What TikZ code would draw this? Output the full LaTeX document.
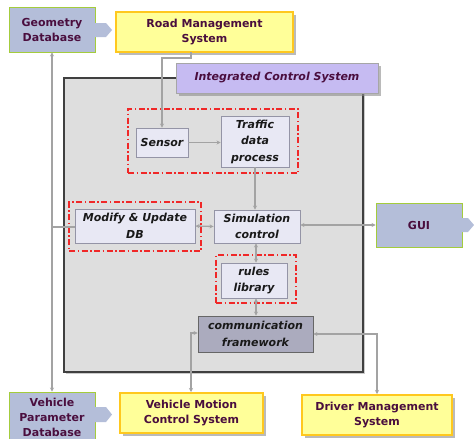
\documentclass[tikz,border=0pt]{standalone}
\usepackage{fontspec}
\setmainfont{DejaVu Sans}
\usetikzlibrary{shadows,arrows.meta}
\definecolor{dbfill}{HTML}{B4BED9}
\definecolor{dbline}{HTML}{A4CC3C}
\definecolor{yfill}{HTML}{FFFF99}
\definecolor{yline}{HTML}{FFC81E}
\definecolor{icsfill}{HTML}{C6BBF2}
\definecolor{panelfill}{HTML}{DEDEDE}
\definecolor{innerfill}{HTML}{E8E8F4}
\definecolor{innerline}{HTML}{9494A6}
\definecolor{commfill}{HTML}{ABABBE}
\definecolor{txtdark}{HTML}{4A0E3E}
\definecolor{conn}{HTML}{A3A3A3}
\definecolor{redline}{HTML}{F02828}
\tikzset{
  outertext/.style={font=\fontsize{11}{15}\selectfont\bfseries, text=txtdark, align=center, inner sep=0pt},
  dbbox/.style={outertext, fill=dbfill, draw=dbline, line width=0.9pt},
  ybox/.style={outertext, fill=yfill, draw=yline, line width=2pt,
    drop shadow={shadow xshift=2.5pt, shadow yshift=-2.5pt, fill=black!45, opacity=0.6}},
  innerbox/.style={font=\fontsize{11}{16.5}\selectfont\bfseries\itshape, text=black!90, align=center,
    inner sep=0pt, fill=innerfill, draw=innerline, line width=0.9pt},
  redbox/.style={draw=redline, line width=1.3pt, dash pattern=on 6pt off 2.5pt on 1.5pt off 2.5pt},
  connline/.style={draw=conn, line width=1.3pt},
  tipend/.style={-{Stealth[length=4pt,width=4pt]}},
  tipboth/.style={{Stealth[length=4pt,width=4pt]}-{Stealth[length=4pt,width=4pt]}},
}
\begin{document}
\begin{tikzpicture}[x=1pt,y=-1pt]
\useasboundingbox (0,0) rectangle (474,439);
\clip (0,0) rectangle (474,439);
\fill[white] (0,0) rectangle (474,439);

% main panel
\node[fill=panelfill, draw=black!75, line width=1.3pt, minimum width=299pt, minimum height=294pt,
  drop shadow={shadow xshift=1.5pt, shadow yshift=-1.5pt, fill=black!40, opacity=0.5}]
  (panel) at (213.5,225) {};

% red dash-dot groups
\node[redbox, minimum width=170pt, minimum height=64pt] (red1) at (213,141) {};
\node[redbox, minimum width=132pt, minimum height=49pt] (red2) at (135,226.5) {};
\node[redbox, minimum width=80pt, minimum height=48pt] (red3) at (256,279) {};

% outer boxes
\node[dbbox, minimum width=86pt, minimum height=45pt] (geo) at (52,29.5) {Geometry\\Database};
\fill[dbfill] (94.5,23) -- (106,23) -- (112,30) -- (106,37) -- (94.5,37) -- cycle;
\node[ybox, minimum width=177pt, minimum height=40pt] (rms) at (204.5,32) {Road Management\\System};
\node[draw=black!35, line width=1pt, fill=icsfill, minimum width=202pt, minimum height=30pt,
  font=\fontsize{11}{14}\selectfont\bfseries\itshape, text=txtdark, inner sep=0pt,
  drop shadow={shadow xshift=2.5pt, shadow yshift=-2.5pt, fill=black!45, opacity=0.6}]
  (ics) at (277,78) {Integrated Control System};

\node[dbbox, minimum width=86pt, minimum height=44pt] (gui) at (419,225) {GUI};
\fill[dbfill] (461.5,218) -- (468,218) -- (474,225) -- (468,232) -- (461.5,232) -- cycle;

\node[dbbox, minimum width=86pt, minimum height=50pt] (vpd) at (52,417) {Vehicle\\Parameter\\Database};
\fill[dbfill] (94.5,407) -- (106,407) -- (112,414.5) -- (106,422) -- (94.5,422) -- cycle;
\node[ybox, minimum width=143pt, minimum height=40pt] (vmcs) at (191.5,413) {Vehicle Motion\\Control System};
\node[ybox, minimum width=150pt, minimum height=40pt] (dms) at (377,415) {Driver Management\\System};

% inner boxes
\node[innerbox, minimum width=52pt, minimum height=29pt] (sensor) at (162,142.5) {Sensor};
\node[innerbox, minimum width=68pt, minimum height=51pt] (traffic) at (255,141.5) {Traffic\\data\\process};
\node[innerbox, minimum width=120pt, minimum height=34pt] (modify) at (135,226) {Modify \& Update\\DB};
\node[innerbox, minimum width=86pt, minimum height=33pt] (sim) at (257,226.5) {Simulation\\control};
\node[innerbox, minimum width=66pt, minimum height=35pt] (rules) at (254,280.5) {rules\\library};
\node[innerbox, fill=commfill, draw=black!60, minimum width=115pt, minimum height=36pt] (comm) at (255.5,334) {communication\\framework};

% connectors
\coordinate (r1) at (191,52);
\coordinate (r2) at (191,58);
\coordinate (r3) at (162,58);
\draw[connline, tipend] (r1) -- (r2) -- (r3) -- (sensor.north);
\draw[connline, tipend] (sensor.east) -- (traffic.west |- sensor.east);
\draw[connline, tipend] (traffic.south) -- (traffic.south |- sim.north);
\draw[connline, tipboth] (modify.east) -- (sim.west);
\draw[connline, tipboth] (sim.east |- gui.west) -- (gui.west);
\draw[connline, tipboth] (rules.north -| 256,0) -- (sim.south -| 256,0);
\draw[connline, tipboth] (comm.north -| 256,0) -- (rules.south -| 256,0);
\draw[connline, tipboth] (geo.south) -- (vpd.north);
\coordinate (j1) at (52,227);
\draw[connline] (j1) -- (modify.west |- j1);
\coordinate (c1) at (191,333);
\draw[connline, tipboth] (comm.west |- c1) -- (c1) -- (vmcs.north -| c1);
\coordinate (c2) at (377,334);
\draw[connline, tipboth] (comm.east |- c2) -- (c2) -- (dms.north);
\end{tikzpicture}
\end{document}
